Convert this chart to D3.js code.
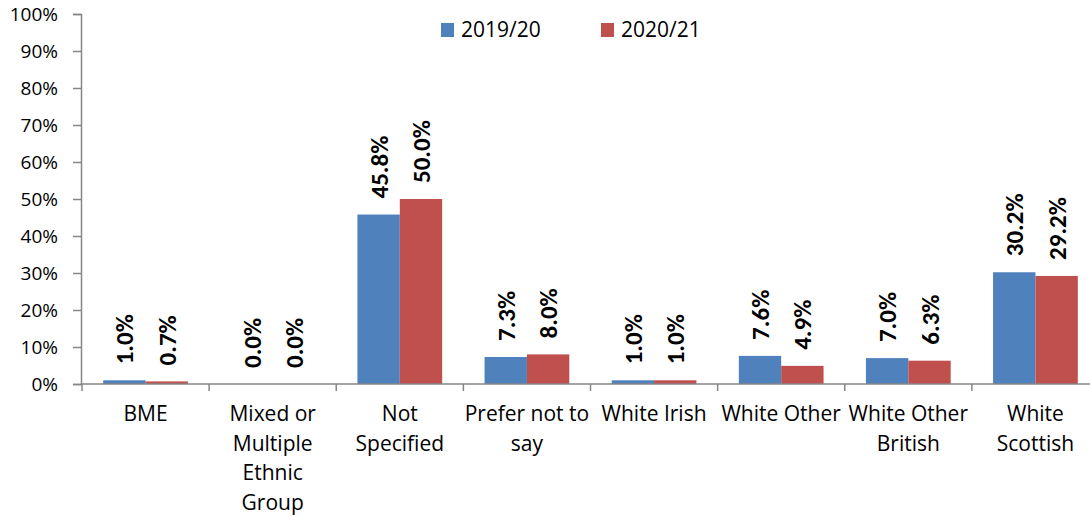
<!DOCTYPE html>
<html>
<head>
<meta charset="utf-8">
<script src="https://cdn.jsdelivr.net/npm/d3@7"></script>
<style>
  html, body { margin: 0; padding: 0; background: #fff; }
  svg { display: block; }
  text { font-family: Carlito, Calibri, Lato, "Open Sans", sans-serif; }
</style>
</head>
<body>
<svg id="chart" width="1090" height="515"></svg>
<script>
// Ethnicity categories (line breaks mark how the axis labels wrap)
const categories = [
  "BME",
  "Mixed or\nMultiple\nEthnic\nGroup",
  "Not\nSpecified",
  "Prefer not to\nsay",
  "White Irish",
  "White Other",
  "White Other\nBritish",
  "White\nScottish"
];
const seriesNames = ["2019/20", "2020/21"];
const values2019 = [1.0, 0.0, 45.8, 7.3, 1.0, 7.6, 7.0, 30.2];
const values2020 = [0.7, 0.0, 50.0, 8.0, 1.0, 4.9, 6.3, 29.2];
const yTicks = [0, 10, 20, 30, 40, 50, 60, 70, 80, 90, 100];
const colors = ["#4F81BD", "#C0504D"];
const axisColor = "#868686";

const svg = d3.select("#chart");

const x = d3.scaleBand().domain(categories).range([82, 1099]).paddingInner(0).paddingOuter(0);
const xSub = d3.scaleBand().domain(seriesNames)
  .range([x.bandwidth() / 6, x.bandwidth() * 5 / 6]).padding(0);
const y = d3.scaleLinear().domain([0, 100]).range([384, 14]);

// Y axis
const yAxis = d3.axisLeft(y).tickValues(yTicks).tickSize(8).tickPadding(15)
  .tickFormat(d => d + "%");
const gy = svg.append("g").attr("transform", "translate(81,0)").call(yAxis);
gy.select(".domain").attr("stroke", axisColor).attr("stroke-width", 1.5);
gy.selectAll(".tick line").attr("stroke", axisColor).attr("stroke-width", 1.5);
gy.selectAll(".tick text").attr("fill", "#000").style("font-size", "19px")
  .style("font-family", "'Open Sans', Lato, sans-serif");

// Bars
const seriesData = seriesNames.map((s, i) => ({
  name: s,
  color: colors[i],
  values: categories.map((c, j) => ({ cat: c, v: i === 0 ? values2019[j] : values2020[j] }))
}));

const groups = svg.append("g").selectAll("g").data(seriesData).join("g")
  .attr("fill", d => d.color);

groups.selectAll("rect").data(d => d.values.map(v => ({ ...v, s: d.name }))).join("rect")
  .attr("x", d => x(d.cat) + xSub(d.s))
  .attr("width", xSub.bandwidth())
  .attr("y", d => y(d.v))
  .attr("height", d => y(0) - y(d.v));

// Value labels, rotated
groups.selectAll("text").data(d => d.values.map(v => ({ ...v, s: d.name }))).join("text")
  .attr("transform", d => {
    const cx = x(d.cat) + xSub(d.s) + xSub.bandwidth() / 2;
    const cy = y(d.v) - 16;
    return `translate(${cx},${cy}) rotate(-90)`;
  })
  .attr("text-anchor", "start")
  .attr("dy", "0.36em")
  .attr("fill", "#000")
  .style("font-size", "25px")
  .style("font-weight", "bold")
  .text(d => d.v.toFixed(1) + "%");

// X axis
svg.append("line")
  .attr("x1", 81).attr("x2", 1090).attr("y1", y(0)).attr("y2", y(0))
  .attr("stroke", axisColor).attr("stroke-width", 1.5);
svg.append("g").selectAll("line").data(categories).join("line")
  .attr("x1", d => x(d)).attr("x2", d => x(d))
  .attr("y1", y(0)).attr("y2", y(0) + 7)
  .attr("stroke", axisColor).attr("stroke-width", 1.5);

const catLabels = svg.append("g").selectAll("text").data(categories).join("text")
  .attr("x", d => x(d) + x.bandwidth() / 2)
  .attr("y", 421)
  .attr("text-anchor", "middle")
  .attr("fill", "#000")
  .style("font-family", "'Open Sans', Lato, sans-serif")
  .style("font-size", "21px");
catLabels.selectAll("tspan").data(d => d.split("\n")).join("tspan")
  .attr("x", function() { return d3.select(this.parentNode).attr("x"); })
  .attr("dy", (d, i) => i === 0 ? 0 : 29.5)
  .text(d => d);

// Legend
const legend = svg.append("g").selectAll("g").data(seriesData).join("g")
  .attr("transform", (d, i) => `translate(${441 + i * 160},23)`);
legend.append("rect").attr("width", 13).attr("height", 14).attr("fill", d => d.color);
legend.append("text").attr("x", 20).attr("y", 14).attr("fill", "#000")
  .style("font-family", "'Open Sans', Lato, sans-serif")
  .style("font-size", "21px").text(d => d.name);
</script>
</body>
</html>
